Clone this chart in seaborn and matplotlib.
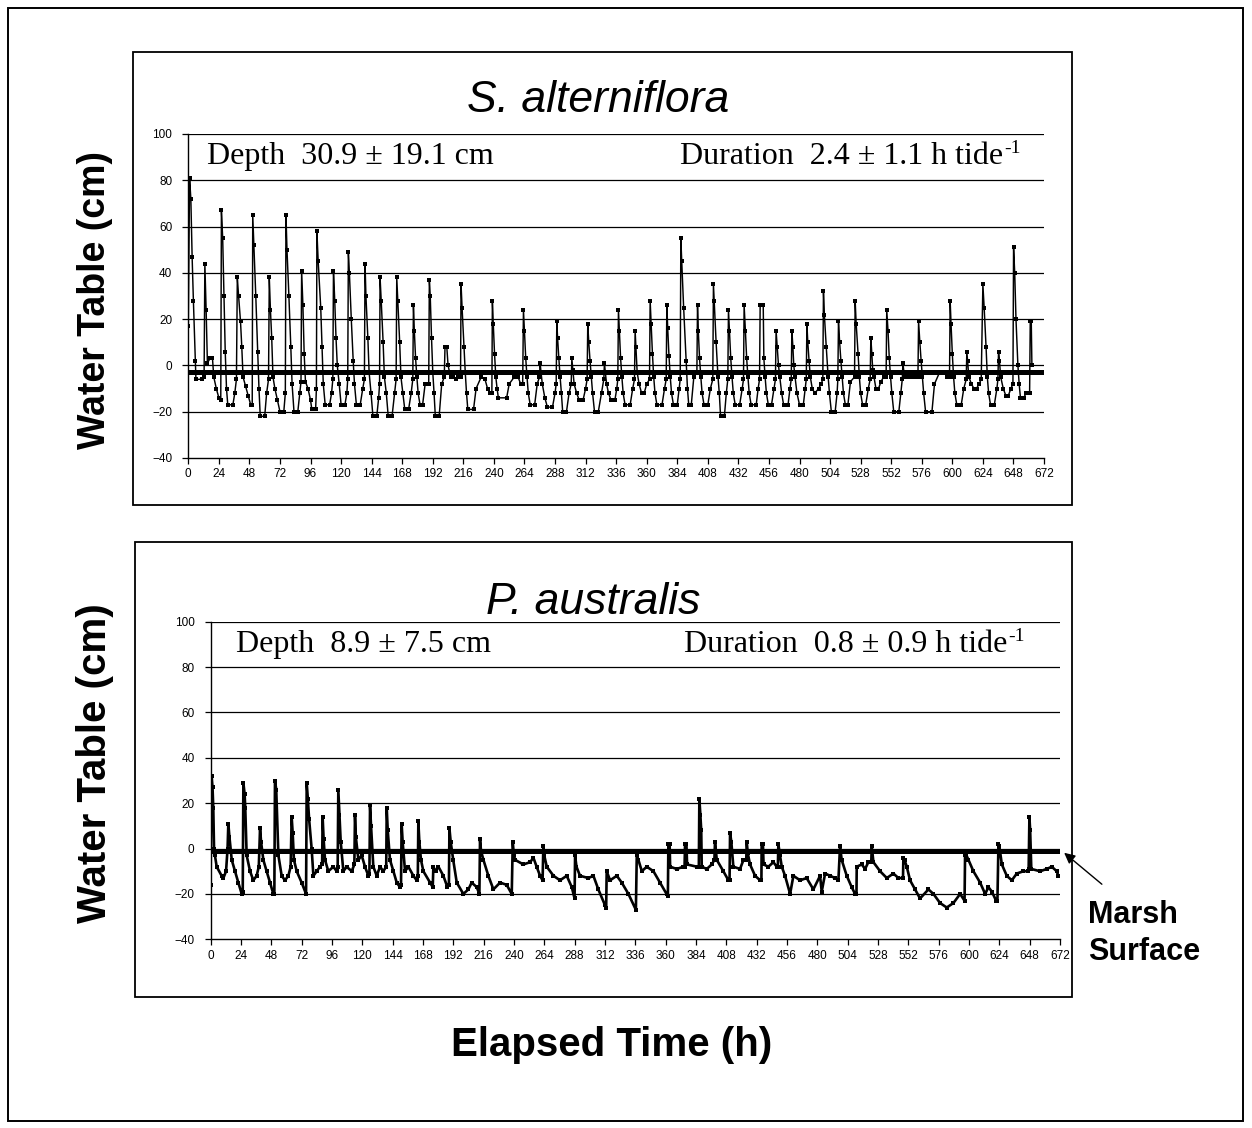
import matplotlib
matplotlib.use('Agg')
import matplotlib.pyplot as plt
import seaborn as sns
import pandas as pd
from matplotlib.patches import Rectangle, FancyArrowPatch

sns.set_style('white')
plt.rcParams['font.family'] = ['Liberation Sans', 'DejaVu Sans']
plt.rcParams['text.color'] = 'black'
plt.rcParams['axes.labelcolor'] = 'black'
plt.rcParams['xtick.color'] = 'black'
plt.rcParams['ytick.color'] = 'black'

# ---------------- data ----------------
x_ticks = list(range(0, 673, 24))
y_ticks = [-40, -20, 0, 20, 40, 60, 80, 100]
marsh_cm = [-3, -1]

titles = ['S. alterniflora', 'P. australis']
depth_labels = ['Depth  30.9 \u00b1 19.1 cm', 'Depth  8.9 \u00b1 7.5 cm']
duration_labels = ['Duration  2.4 \u00b1 1.1 h tide', 'Duration  0.8 \u00b1 0.9 h tide']
duration_sup = '-1'

# S. alterniflora water table (h, cm)
alt_h = [
    0, 1, 2, 3, 4, 5.5, 6, 11, 12.4,
    13, 14, 15, 17, 19, 20, 22, 24, 25.5,
    26, 27, 28, 29, 30, 31, 35, 36.5, 37.8,
    38.5, 39.5, 41, 42, 43, 45, 47, 49, 50.2,
    50.6, 51.5, 53, 54.5, 55.5, 56.5, 60, 61.5, 63,
    63.6, 64.5, 65.5, 66.5, 68, 70, 72, 75, 76.2,
    76.7, 77.5, 79, 80.5, 81.5, 83, 86, 87.5, 88.5,
    89, 90, 91, 92, 94, 96, 97, 100, 100.6,
    101, 102, 104, 105, 106, 107.5, 111, 112.5, 113.5,
    114, 115, 116, 117, 118.5, 120, 123, 124.5, 125.2,
    125.7, 126.5, 128, 129.5, 130.5, 132, 135, 137, 138.3,
    138.8, 139.5, 141, 142, 143.5, 145, 148, 149.5, 150.2,
    150.6, 151.5, 153, 154, 155.5, 157, 160, 162, 163.2,
    163.7, 164.5, 166, 167, 168.5, 170, 173, 175, 176.3,
    176.8, 177.5, 178.5, 179.5, 180.5, 182, 184, 186, 188.8,
    189.3, 190, 191, 192, 193, 194, 197, 199, 201,
    201.6, 203, 204, 206, 208, 210, 212, 213, 213.8,
    214.2, 215, 216.5, 217.5, 218.5, 219.5, 224, 226, 230, 233, 235, 237, 238.4,
    238.8, 239.5, 240.5, 241.5, 242.5, 243.5, 250, 252, 256, 259, 261, 262.6,
    263.2, 264, 265, 266, 267, 268.5, 272, 274, 275.8,
    276.3, 277, 278, 280, 282, 286, 288, 288.9,
    289.4, 290, 291, 292, 293, 294, 297, 299, 300.7,
    301.2, 302, 303, 305, 307, 310, 312, 313.2,
    313.7, 314.5, 315.5, 316.5, 317.5, 319, 322, 324.5, 326.3,
    326.8, 327.5, 328.5, 330, 332, 335, 336.5, 337.3,
    337.8, 338.5, 339.5, 340.5, 341.5, 343, 347, 349, 350.4,
    350.9, 351.5, 352.5, 354, 356, 358, 360, 362.2,
    362.7, 363.5, 364.5, 365.5, 366.5, 368, 372, 374, 375.3,
    375.8, 376.5, 377.5, 378.5, 379.5, 381, 384, 385.5, 386.3,
    386.8, 387.5, 389, 391, 392, 393, 395, 397, 399.4,
    399.9, 400.5, 401.5, 402.5, 403.5, 405, 408, 410, 411.9,
    412.4, 413, 414.5, 416, 417, 418, 421, 422.5, 423.7,
    424.2, 425, 426, 427, 428, 429.5, 433, 435, 436,
    436.5, 437.5, 438.5, 439.5, 440.5, 442, 446, 447.5, 448.6,
    449.1, 451.5, 452, 453, 454, 455.5, 458, 460, 461.1,
    461.6, 462.5, 463.5, 464.5, 466, 467.5, 471, 472.5, 473.5,
    474, 474.8, 475.5, 476.5, 478, 480, 483, 484.5, 485.3,
    485.8, 486.5, 487.5, 488.5, 490, 492, 495, 497, 498.3,
    498.8, 499.5, 501, 502.5, 503.5, 505, 508, 509.5, 510.1,
    510.6, 511.5, 512.5, 513.5, 514.5, 516, 518, 520, 523.2,
    523.7, 524.5, 526, 527, 528, 529.5, 532, 534, 535.5,
    536, 536.8, 537.5, 538.5, 540, 542, 544, 546, 548,
    548.5, 549.5, 550.5, 551.5, 552.5, 554, 558, 559.5, 560.7,
    561.2, 562, 563, 566, 569, 572, 573,
    573.5, 574.5, 575.5, 576.5, 577.5, 579, 584, 586, 590, 594, 596, 597.8,
    598.3, 599, 600, 601, 602, 603.5, 607, 609, 610.9,
    611.4, 612, 613, 615, 617, 619, 621, 622.7,
    624, 625, 626.5, 627.5, 628.5, 630, 633, 635, 635.8,
    636.3, 637, 638, 640, 642, 644, 646, 647.6,
    648.1, 649, 650, 651.5, 652.5, 653.5, 656, 658, 660.7,
    661.2, 662, 662.5,
]
alt_cm = [
    17, 81, 72, 47, 28, 2, -6, -6, -5,
    44, 24, 1, 3, 3, -5, -10, -14, -15,
    67, 55, 30, 6, -10, -17, -17, -12, -6,
    38, 30, 19, 8, -5, -9, -13, -17, -17,
    65, 52, 30, 6, -10, -22, -22, -12, -6,
    38, 24, 12, -5, -10, -15, -20, -20, -12,
    65, 50, 30, 8, -8, -20, -20, -12, -7,
    41, 26, 5, -7, -10, -15, -19, -19, -10,
    58, 45, 25, 8, -8, -17, -17, -12, -6,
    41, 28, 12, 0, -8, -17, -17, -12, -6,
    49, 40, 20, 2, -8, -17, -17, -10, -6,
    44, 30, 12, -3, -12, -22, -22, -14, -8,
    38, 28, 10, -5, -12, -22, -22, -12, -6,
    38, 28, 10, -5, -12, -19, -19, -12, -6,
    26, 15, 3, -5, -12, -17, -17, -8, -8,
    37, 30, 12, -3, -12, -22, -22, -8, -5,
    8, 8, 0, -5, -5, -6, -5, -5, -5,
    35, 25, 8, -3, -12, -19, -19, -10, -5, -6, -10, -12, -12,
    28, 18, 5, -5, -10, -14, -14, -8, -5, -5, -8, -8,
    24, 15, 3, -5, -12, -17, -17, -8, -5,
    1, -3, -8, -14, -18, -18, -12, -8,
    19, 12, 3, -5, -12, -20, -20, -12, -8,
    3, -2, -8, -12, -15, -15, -10, -6,
    18, 10, 2, -5, -12, -20, -20, -12, -6,
    1, -3, -8, -12, -15, -15, -10, -6,
    24, 15, 3, -5, -12, -17, -17, -10, -6,
    15, 8, -3, -8, -12, -12, -8, -6,
    28, 18, 5, -5, -12, -17, -17, -10, -6,
    26, 16, 4, -5, -12, -17, -17, -10, -6,
    55, 45, 25, 2, -10, -17, -17, -5, -3,
    26, 15, 3, -5, -12, -17, -17, -10, -6,
    35, 28, 10, -5, -12, -22, -22, -12, -6,
    24, 15, 3, -5, -12, -17, -17, -10, -6,
    26, 15, 3, -5, -12, -17, -17, -10, -6,
    26, 26, 3, -5, -12, -17, -17, -10, -6,
    15, 8, 0, -5, -12, -17, -17, -10, -6,
    15, 8, 0, -5, -12, -17, -17, -10, -6,
    18, 10, 2, -5, -10, -12, -10, -8, -6,
    32, 22, 8, -5, -12, -20, -20, -12, -6,
    19, 10, 2, -5, -12, -17, -17, -7, -5,
    28, 18, 5, -5, -12, -17, -17, -10, -6,
    12, 5, -2, -5, -10, -10, -7, -5, -5,
    24, 15, 3, -5, -12, -20, -20, -12, -6,
    1, -3, -5, -5, -5, -5, -5,
    19, 10, 2, -5, -12, -20, -20, -8, -3, -3, -5, -5,
    28, 18, 5, -5, -12, -17, -17, -10, -6,
    6, 2, -5, -8, -10, -10, -8, -6,
    35, 25, 8, -5, -12, -17, -17, -10, -6,
    6, 2, -5, -10, -13, -13, -10, -8,
    51, 40, 20, 0, -8, -14, -14, -12, -12,
    19, 19, 0,
]

# P. australis water table (h, cm)
aus_h = [
    0, 0.9, 1.6, 2.2, 2.8, 3.5, 4.9, 8.8, 10.2, 12.3,
    13.5, 14.1, 15, 16.8, 19.4, 22, 24.7, 25.5, 26, 27,
    27.5, 28.6, 31.3, 33.9, 36.5, 38.2, 39.2, 40, 41.8, 44.4,
    47.1, 49.7, 50.5, 51, 52, 53.7, 56.3, 58.9, 61.6, 63.4,
    64.2, 65, 66, 68.2, 72.1, 75.6, 76.1, 77, 78, 80,
    81.4, 84, 86.6, 88.3, 88.7, 89.5, 90.6, 93.2, 97.2, 99.8,
    100.6, 101.1, 102, 103, 105.1, 107.7, 111.7, 113.8, 114.3, 115,
    117, 119.6, 122.2, 124.9, 125.7, 126.2, 127, 128.8, 131.5, 134.1,
    136.7, 139, 139.4, 140.2, 142, 144.7, 147.3, 149.9, 150.7, 151.2,
    152, 153.9, 156.5, 160.5, 163.1, 164, 164.4, 165.2, 166.5, 168.4,
    173.7, 175.8, 176.3, 178, 180.3, 184.2, 187.4, 188.6, 189, 190,
    192, 194.8, 200, 204, 206.6, 210.6, 212.7, 213.2, 214, 215.9,
    219.8, 223.8, 229.1, 234.3, 238.3, 239.1, 240, 241, 247.5, 252.9,
    255.4, 258, 260.7, 262.7, 263.3, 264, 266, 271.3, 276.5, 281.8,
    285.8, 288, 288.4, 289.5, 292.3, 298.9, 302.9, 306.8, 312.1, 313,
    313.4, 316.1, 321.4, 325.3, 330.6, 336.5, 337.2, 338.5, 341.2, 345.1,
    350.4, 355.6, 360.9, 361.8, 362.2, 363.2, 363.6, 368.8, 374.1, 375,
    375.4, 376.5, 377, 384.7, 386.3, 386.7, 387.5, 388.2, 388.6, 392.6,
    396.5, 398.6, 399.1, 400.5, 405.7, 409.7, 410.6, 411, 412, 413.6,
    418.9, 421.6, 423.8, 424.2, 425, 426.8, 430.8, 434.8, 435.8, 436,
    437, 437.5, 441.3, 445.3, 447.9, 448.8, 449.2, 450.5, 451.9, 454.5,
    458.5, 461.1, 466.4, 471.6, 476.9, 482.2, 483.5, 486.2, 490.1, 494.1,
    496.7, 498, 499.3, 503.3, 507.2, 509.9, 511, 511.2, 515.2, 517.8,
    520.4, 522.7, 523.1, 524.4, 529.7, 535, 540.2, 544.2, 547.8, 548.1,
    549, 550.8, 553.4, 557.4, 561.3, 567.9, 571.9, 577.1, 582.4, 587.7,
    593, 596.5, 596.9, 598, 599.6, 603.5, 608.8, 612.8, 615.4, 618.1,
    621.5, 622.5, 623.3, 624, 626, 629.9, 633.9, 637.8, 643.1, 646.3,
    647.2, 647.8, 648.4, 649.3, 656.3, 661.5, 665.5, 669.4, 670.7,
]
aus_cm = [
    -16, 32, 27, 18, 0, -3, -8, -12, -13, -10,
    0, 11, 5, -5, -10, -15, -20, -19, 29, 24,
    18, -3, -10, -14, -12, -8, 9, 3, -5, -10,
    -15, -20, -20, 30, 26, -3, -12, -14, -12, -8,
    14, 7, -5, -10, -15, -20, 29, 22, 13, 0,
    -12, -10, -8, -7, 14, 4, -5, -10, -8, -10,
    -8, 26, 15, 3, -10, -8, -10, -7, 15, 5,
    -5, -3, -8, -12, -11, 19, 10, -8, -12, -8,
    -10, -8, 18, 8, -5, -10, -15, -17, -16, 11,
    3, -10, -8, -12, -14, -12, 12, 3, -5, -10,
    -15, -17, -8, -10, -8, -12, -17, -16, 9, 3,
    -5, -15, -20, -18, -15, -17, -20, 4, -1, -5,
    -12, -18, -15, -16, -20, 3, -3, -5, -7, -6,
    -4, -8, -12, -14, 1, -3, -8, -12, -14, -12,
    -17, -22, -3, -8, -12, -13, -12, -18, -25, -26,
    -10, -14, -12, -15, -20, -27, -3, -5, -10, -8,
    -10, -15, -20, -21, 2, 2, -8, -9, -8, -8,
    2, 2, -7, -8, -8, 22, 15, 8, -8, -9,
    -7, -5, 3, -5, -10, -14, -14, 7, 3, -8,
    -9, -5, -5, 3, -2, -7, -12, -14, -14, 2,
    2, -7, -8, -6, -8, -8, 2, -3, -8, -12,
    -20, -12, -14, -13, -18, -12, -19, -11, -12, -13,
    -14, 1, -5, -12, -17, -20, -20, -8, -7, -9,
    -6, -6, 1, -6, -10, -13, -11, -13, -13, -4,
    -5, -8, -14, -18, -22, -18, -20, -24, -26, -24,
    -20, -23, -3, -3, -5, -10, -15, -20, -17, -19,
    -23, -23, 2, 1, -7, -12, -14, -11, -10, -10,
    -9, 14, 8, -9, -10, -9, -8, -10, -12,
]

# ---------------- layout helpers ----------------
W, H = 1252, 1128
fig = plt.figure(figsize=(W / 100, H / 100), dpi=100)
fig.patch.set_facecolor('white')


def fx(x):
    return x / W


def fy(y):
    return 1 - y / H


def rect(l, t, r, b):
    return [fx(l), fy(b), (r - l) / W, (b - t) / H]


def box(l, t, r, b, lw=1.3):
    fig.add_artist(Rectangle((fx(l), fy(b)), (r - l) / W, (b - t) / H,
                             transform=fig.transFigure, fill=False,
                             ec='black', lw=lw))


box(8, 8, 1243, 1121, lw=1.4)
box(133, 52, 1072, 505)
box(135, 542, 1072, 997)

ax1 = fig.add_axes(rect(188.3, 134, 1044, 458))
ax2 = fig.add_axes(rect(210.5, 621.7, 1060, 939.3))


def draw_panel(ax, hours, cm, marsh, lw, ms):
    df = pd.DataFrame({'h': hours, 'cm': cm})
    sns.lineplot(data=df, x='h', y='cm', ax=ax, color='black',
                 linewidth=lw, marker='s', markersize=ms,
                 markeredgewidth=0, estimator=None, sort=False,
                 legend=False, zorder=4)
    ax.axhline(marsh, color='black', lw=3.6, zorder=3)
    ax.set_xlim(0, 672)
    ax.set_ylim(-40, 100)
    ax.set_xticks(x_ticks)
    ax.set_yticks(y_ticks)
    ax.grid(False)
    for yv in y_ticks[1:]:
        ax.axhline(yv, color='black', lw=0.9, zorder=2)
    ax.set_facecolor('white')
    for s in ['top', 'right']:
        ax.spines[s].set_visible(False)
    for s in ['left', 'bottom']:
        ax.spines[s].set_color('black')
        ax.spines[s].set_linewidth(1.0)
    ax.tick_params(axis='both', direction='out', length=4.5, width=0.9,
                   colors='black', labelsize=8.5, left=True, bottom=True)
    ax.tick_params(axis='y', pad=7)
    ax.tick_params(axis='x', pad=3)
    ax.set_xlabel('')
    ax.set_ylabel('')


draw_panel(ax1, alt_h, alt_cm, marsh_cm[0], lw=1.05, ms=2.2)
draw_panel(ax2, aus_h, aus_cm, marsh_cm[1], lw=1.9, ms=2.8)

# titles
fig.text(fx(598), fy(112), titles[0], ha='center', va='baseline',
         fontsize=32, style='italic')
fig.text(fx(593), fy(614), titles[1], ha='center', va='baseline',
         fontsize=32, style='italic')

serif = ['Liberation Serif', 'DejaVu Serif']
fig.text(fx(207), fy(164), depth_labels[0], ha='left', va='baseline',
         fontsize=23, family=serif)
fig.text(fx(236), fy(652), depth_labels[1], ha='left', va='baseline',
         fontsize=23, family=serif)
# Duration text with superscript "-1"
for lab, right, base in [(duration_labels[0], 1003, 164),
                         (duration_labels[1], 1007, 652)]:
    fig.text(fx(right), fy(base), lab, ha='right', va='baseline',
             fontsize=23, family=serif)
    fig.text(fx(right + 1), fy(base - 11), duration_sup, ha='left',
             va='baseline', fontsize=14, family=serif)

# axis labels
fig.text(fx(95), fy(300), 'Water Table (cm)', rotation=90, ha='center',
         va='center', fontsize=27, weight='bold')
fig.text(fx(95), fy(763), 'Water Table (cm)', rotation=90, ha='center',
         va='center', fontsize=29, weight='bold')
fig.text(fx(612), fy(1056), 'Elapsed Time (h)', ha='center', va='baseline',
         fontsize=29, weight='bold')

# marsh surface annotation
fig.text(fx(1088), fy(923), 'Marsh', ha='left', va='baseline',
         fontsize=22, weight='bold')
fig.text(fx(1088), fy(960), 'Surface', ha='left', va='baseline',
         fontsize=22, weight='bold')
arrow = FancyArrowPatch((fx(1104), fy(886)), (fx(1062), fy(851)),
                        transform=fig.transFigure, arrowstyle='-|>',
                        mutation_scale=16, color='black', lw=1.0)
fig.add_artist(arrow)

fig.savefig('out.png', dpi=100, facecolor='white')
